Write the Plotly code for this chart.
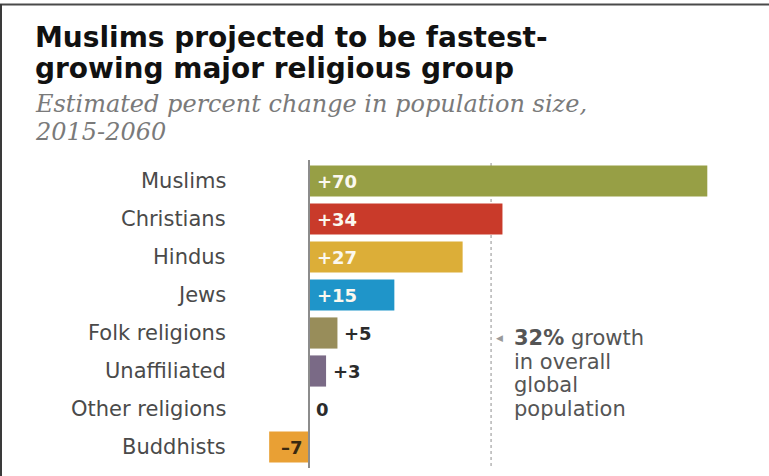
import plotly.graph_objects as go

categories = ["Muslims", "Christians", "Hindus", "Jews", "Folk religions",
              "Unaffiliated", "Other religions", "Buddhists"]
changes = [70, 34, 27, 15, 5, 3, 0, -7]
value_labels = ["+70", "+34", "+27", "+15", "+5", "+3", "0", "\u20137"]
bar_colors = ["#979f45", "#c93a2a", "#dcae38", "#1f95c9", "#988d5a",
              "#7a6a86", "#999999", "#e9a034"]
label_inside = [True, True, True, True, False, False, False, True]
world_growth = 32
title_lines = ["Muslims projected to be fastest-", "growing major religious group"]
subtitle_lines = ["Estimated percent change in population size,", "2015-2060"]
note_lines = ["<b>32%</b> growth", "in overall", "global", "population"]

W, H = 769, 476
L, R, T, B = 260, 49, 162, 10
PW = W - L - R
PH = H - T - B
ZERO_PX = 309
PX_PER_UNIT = 5.69


def px_to_paper_x(px):
    return (px - L) / PW


def py_to_paper_y(py):
    return (H - B - py) / PH


x_min = -(ZERO_PX - L) / PX_PER_UNIT
x_max = (L + PW - ZERO_PX) / PX_PER_UNIT

fig = go.Figure()
fig.add_trace(go.Bar(
    y=categories, x=changes, orientation="h",
    marker=dict(color=bar_colors, line=dict(width=0)),
    hoverinfo="skip", showlegend=False,
))

annotations = []
# category labels
for cat in categories:
    annotations.append(dict(
        x=px_to_paper_x(228), xref="paper", y=cat, yref="y",
        text=cat, showarrow=False, xanchor="right", yanchor="middle",
        font=dict(family="DejaVu Sans", size=21, color="#4a4a4a"),
    ))

# value labels
for cat, val, lab, inside in zip(categories, changes, value_labels, label_inside):
    if inside and val > 0:
        a = dict(x=0, xanchor="left", xshift=6, color="#fbf8ef")
    elif inside and val < 0:
        a = dict(x=0, xanchor="right", xshift=-4, color="#3a2a10")
    else:
        a = dict(x=val, xanchor="left", xshift=5, color="#2b2b2b")
    annotations.append(dict(
        x=a["x"], xref="x", y=cat, yref="y", text="<b>%s</b>" % lab,
        showarrow=False, xanchor=a["xanchor"], xshift=a["xshift"],
        yanchor="middle",
        font=dict(family="DejaVu Sans", size=18, color=a["color"]),
    ))

# title and subtitle
for i, line in enumerate(title_lines):
    annotations.append(dict(
        x=px_to_paper_x(33), xref="paper", y=py_to_paper_y(38 + 31 * i), yref="paper",
        text="<b>%s</b>" % line, showarrow=False, xanchor="left", yanchor="middle",
        font=dict(family="DejaVu Sans", size=28, color="#111111"),
    ))
for i, line in enumerate(subtitle_lines):
    annotations.append(dict(
        x=px_to_paper_x(33), xref="paper", y=py_to_paper_y(104 + 28 * i), yref="paper",
        text="<i>%s</i>" % line, showarrow=False, xanchor="left", yanchor="middle",
        font=dict(family="DejaVu Serif", size=24, color="#7a7a7a"),
    ))

# note about world growth
annotations.append(dict(
    x=world_growth, xref="x", y=py_to_paper_y(338), yref="paper",
    text="\u25c0", showarrow=False, xanchor="left", xshift=3, yanchor="middle",
    font=dict(family="DejaVu Sans", size=9, color="#9a9a9a"),
))
for i, line in enumerate(note_lines):
    annotations.append(dict(
        x=world_growth, xref="x", y=py_to_paper_y(338 + 23.5 * i), yref="paper",
        text=line, showarrow=False, xanchor="left", xshift=21, yanchor="middle",
        font=dict(family="DejaVu Sans", size=21, color="#555555"),
    ))

shapes = [
    # world growth reference line
    dict(type="line", xref="x", x0=world_growth, x1=world_growth,
         yref="paper", y0=0, y1=py_to_paper_y(163),
         line=dict(color="#b5b5b5", width=1.5, dash="dot"), layer="below"),
    # zero axis
    dict(type="line", xref="x", x0=0, x1=0, yref="paper",
         y0=py_to_paper_y(468), y1=py_to_paper_y(160),
         line=dict(color="#8c8c8c", width=2), layer="above"),
    # frame: top
    dict(type="line", xref="paper", x0=px_to_paper_x(0), x1=px_to_paper_x(769),
         yref="paper", y0=py_to_paper_y(4.5), y1=py_to_paper_y(4.5),
         line=dict(color="#4a4a4a", width=2)),
    # frame: left
    dict(type="line", xref="paper", x0=px_to_paper_x(1), x1=px_to_paper_x(1),
         yref="paper", y0=py_to_paper_y(476), y1=py_to_paper_y(4),
         line=dict(color="#3a3a3a", width=2)),
]

fig.update_layout(
    width=W, height=H,
    margin=dict(l=L, r=R, t=T, b=B, pad=0),
    paper_bgcolor="white", plot_bgcolor="white",
    bargap=0.18,
    xaxis=dict(range=[x_min, x_max], visible=False, fixedrange=True),
    yaxis=dict(categoryorder="array", categoryarray=categories,
               autorange="reversed", visible=False, fixedrange=True),
    annotations=annotations,
    shapes=shapes,
    showlegend=False,
)

fig.write_html("out.html", config={"displayModeBar": False})
